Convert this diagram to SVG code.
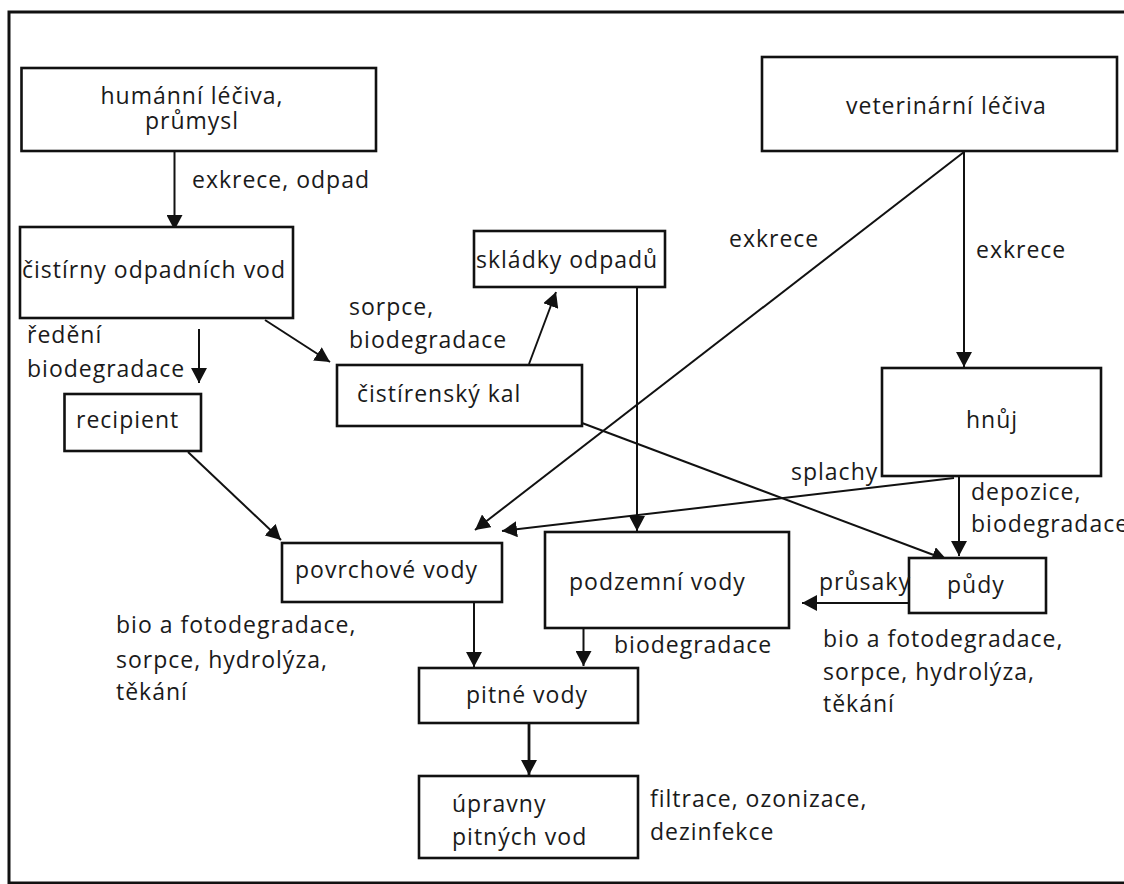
<svg xmlns="http://www.w3.org/2000/svg" width="1124" height="884" viewBox="0 0 1124 884">
<style>
.box{fill:#fff;stroke:#111;stroke-width:2.6}
.t{font-family:"Open Sans","Noto Sans","Liberation Sans",sans-serif;font-size:23px;letter-spacing:1px;fill:#1a1a1a}
.c{text-anchor:middle}
.ln{stroke:#111;stroke-width:2;fill:none;marker-end:url(#ah)}
</style>
<defs>
<marker id="ah" viewBox="0 0 15 16" markerWidth="15" markerHeight="16" refX="15" refY="8" orient="auto" markerUnits="userSpaceOnUse">
<path d="M0,0 L15,8 L0,16 Z" fill="#111"/>
</marker>
</defs>
<rect x="0" y="0" width="1124" height="884" fill="#fff"/>
<rect x="9" y="12" width="1130" height="871" fill="none" stroke="#111" stroke-width="3"/>

<g id="connectors">
<line class="ln" x1="174.5" y1="151" x2="174.5" y2="230"/>
<line class="ln" x1="964" y1="151" x2="964" y2="367" stroke-width="1.6"/>
<line class="ln" x1="964" y1="152" x2="475" y2="530"/>
<line class="ln" x1="637" y1="287" x2="637" y2="531" stroke-width="1.6"/>
<line class="ln" x1="529" y1="364" x2="556" y2="292"/>
<line class="ln" x1="265" y1="320" x2="330" y2="362"/>
<line class="ln" x1="199" y1="329" x2="199" y2="383"/>
<line class="ln" x1="188" y1="452" x2="281" y2="540"/>
<line class="ln" x1="954" y1="478" x2="502" y2="531"/>
<line class="ln" x1="582" y1="423" x2="947" y2="560"/>
<line class="ln" x1="959" y1="476" x2="959" y2="556"/>
<line class="ln" x1="909" y1="603" x2="802" y2="603"/>
<line class="ln" x1="474" y1="602" x2="474" y2="667"/>
<line class="ln" x1="583.5" y1="628" x2="583.5" y2="666"/>
<line class="ln" x1="529" y1="723" x2="529" y2="775" style="stroke-width:2.8"/>
</g>

<g id="n-humanni"><rect class="box" x="21.5" y="68" width="354.5" height="83"/>
<text class="t c" x="192" y="104">humánní léčiva,</text><text class="t c" x="192" y="129">průmysl</text></g>
<g id="n-cistirny"><rect class="box" x="20" y="227" width="273" height="91"/>
<text class="t" x="22" y="278">čistírny odpadních vod</text></g>
<g id="n-skladky"><rect class="box" x="474" y="231" width="191" height="56"/>
<text class="t" x="476" y="268">skládky odpadů</text></g>
<g id="n-veterinarni"><rect class="box" x="762" y="57" width="355" height="94"/>
<text class="t" x="846" y="114">veterinární léčiva</text></g>
<g id="n-recipient"><rect class="box" x="64.5" y="394" width="136.5" height="57"/>
<text class="t" x="76" y="428">recipient</text></g>
<g id="n-kal"><rect class="box" x="337" y="365" width="245" height="61"/>
<text class="t" x="357" y="402">čistírenský kal</text></g>
<g id="n-hnuj"><rect class="box" x="882" y="368" width="219" height="108"/>
<text class="t c" x="992" y="428">hnůj</text></g>
<g id="n-povrchove"><rect class="box" x="282" y="543" width="220" height="59"/>
<text class="t" x="295" y="578">povrchové vody</text></g>
<g id="n-podzemni"><rect class="box" x="545" y="532" width="244" height="96"/>
<text class="t" x="569" y="590">podzemní vody</text></g>
<g id="n-pudy"><rect class="box" x="909" y="558" width="137" height="55"/>
<text class="t" x="947" y="593">půdy</text></g>
<g id="n-pitne"><rect class="box" x="419" y="668" width="219" height="55"/>
<text class="t" x="466" y="703">pitné vody</text></g>
<g id="n-upravny"><rect class="box" x="419" y="776" width="219" height="82"/>
<text class="t" x="452" y="812">úpravny</text><text class="t" x="452" y="845">pitných vod</text></g>

<g id="labels">
<text class="t" x="192" y="188">exkrece, odpad</text>
<text class="t" x="729" y="247">exkrece</text>
<text class="t" x="976" y="258">exkrece</text>
<text class="t" x="349" y="315">sorpce,</text>
<text class="t" x="349" y="348">biodegradace</text>
<text class="t" x="27" y="343">ředění</text>
<text class="t" x="27" y="377">biodegradace</text>
<text class="t" x="791" y="480">splachy</text>
<text class="t" x="971" y="500">depozice,</text>
<text class="t" x="971" y="532">biodegradace</text>
<text class="t" x="819" y="590">průsaky</text>
<text class="t" x="614" y="653">biodegradace</text>
<text class="t" x="116" y="633">bio a fotodegradace,</text>
<text class="t" x="116" y="668">sorpce, hydrolýza,</text>
<text class="t" x="116" y="700">těkání</text>
<text class="t" x="823" y="647">bio a fotodegradace,</text>
<text class="t" x="823" y="680">sorpce, hydrolýza,</text>
<text class="t" x="823" y="712">těkání</text>
<text class="t" x="650" y="807">filtrace, ozonizace,</text>
<text class="t" x="650" y="840">dezinfekce</text>
</g>
</svg>
